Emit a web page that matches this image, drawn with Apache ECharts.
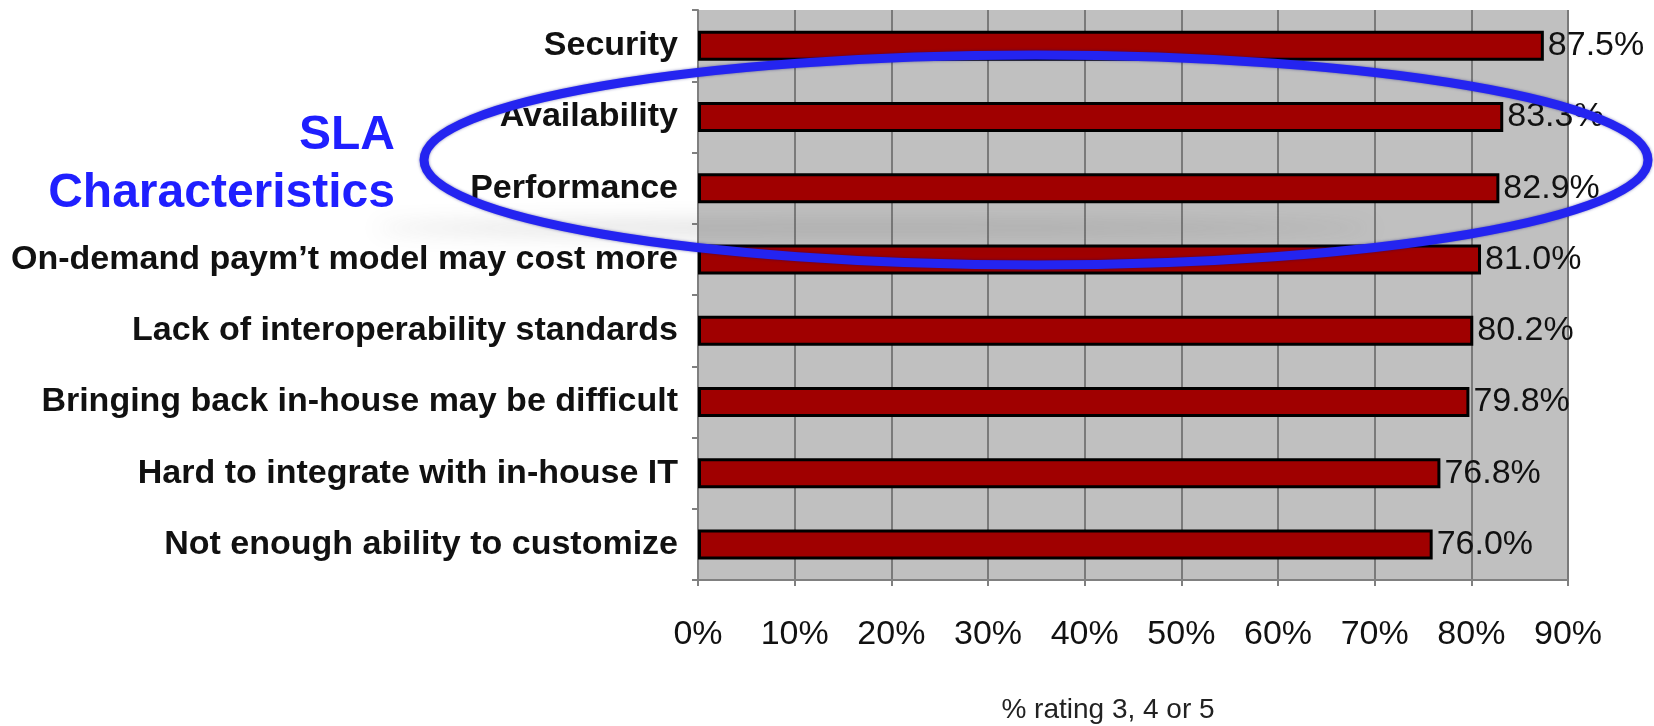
<!DOCTYPE html>
<html>
<head>
<meta charset="utf-8">
<style>
  html, body { margin: 0; padding: 0; background: #fff; }
  #chart { width: 1654px; height: 726px; }
</style>
<script src="https://cdn.jsdelivr.net/npm/echarts@6/dist/echarts.min.js"></script>
</head>
<body>
<div id="chart"></div>
<script>
// concerns, top to bottom
var categories = [
    'Security',
    'Availability',
    'Performance',
    'On-demand paym\u2019t model may cost more',
    'Lack of interoperability standards',
    'Bringing back in-house may be difficult',
    'Hard to integrate with in-house IT',
    'Not enough ability to customize'
];
var ratings = [87.5, 83.3, 82.9, 81.0, 80.2, 79.8, 76.8, 76.0];
var axisTitle = '% rating 3, 4 or 5';
var calloutLines = ['SLA', 'Characteristics'];

var chart = echarts.init(document.getElementById('chart'));

var calloutStyle = {
    align: 'right',
    fontFamily: 'Liberation Sans',
    fontWeight: 'bold',
    fontSize: 48,
    fill: '#1f1fff'
};

var option = {
    animation: false,
    grid: {
        left: 698,
        right: 86,
        top: 10,
        bottom: 146,
        outerBoundsMode: 'none',
        show: true,
        backgroundColor: '#c0c0c0',
        borderWidth: 0
    },
    xAxis: {
        type: 'value',
        min: 0,
        max: 90,
        interval: 10,
        name: axisTitle,
        nameLocation: 'middle',
        nameGap: 116,
        nameTextStyle: {
            fontFamily: 'Liberation Sans',
            fontSize: 28,
            color: '#222',
            padding: [0, 50, 0, 0]
        },
        axisLine: { show: true, lineStyle: { color: '#808080', width: 2 } },
        axisTick: { show: true, length: 6, lineStyle: { color: '#808080', width: 2 } },
        axisLabel: {
            formatter: '{value}%',
            fontFamily: 'Liberation Sans',
            fontSize: 34,
            color: '#111',
            margin: 38
        },
        splitLine: { show: true, lineStyle: { color: '#7a7a7a', width: 2 } }
    },
    yAxis: {
        type: 'category',
        data: categories,
        inverse: true,
        axisLine: { show: true, lineStyle: { color: '#808080', width: 2 } },
        axisTick: { show: true, length: 6, lineStyle: { color: '#808080', width: 2 } },
        axisLabel: {
            fontFamily: 'Liberation Sans',
            fontWeight: 'bold',
            fontSize: 34,
            color: '#111',
            margin: 20
        }
    },
    series: [
        {
            type: 'bar',
            data: ratings,
            barWidth: 30,
            itemStyle: {
                color: '#a00000',
                borderColor: '#000',
                borderWidth: 3
            },
            label: {
                show: true,
                position: 'right',
                distance: 4,
                formatter: function (p) { return p.value.toFixed(1) + '%'; },
                fontFamily: 'Liberation Sans',
                fontSize: 34,
                color: '#111'
            }
        }
    ],
    graphic: [
        {
            type: 'text',
            right: 1654 - 395,
            top: 112,
            style: Object.assign({ text: calloutLines[0] }, calloutStyle)
        },
        {
            type: 'text',
            right: 1654 - 395,
            top: 170,
            style: Object.assign({ text: calloutLines[1] }, calloutStyle)
        },
        {
            // soft shadow under the ring: shape sits off-canvas, only its blur shows
            type: 'ellipse',
            shape: { cx: 875, cy: 228 - 1000, rx: 500, ry: 6 },
            z: 90,
            style: {
                fill: 'rgba(90,90,90,0.5)',
                shadowBlur: 20,
                shadowColor: 'rgba(90,90,90,0.5)',
                shadowOffsetY: 1000
            }
        },
        {
            type: 'ellipse',
            shape: { cx: 1036, cy: 160, rx: 612, ry: 105 },
            z: 100,
            style: {
                fill: 'none',
                stroke: '#2424f0',
                lineWidth: 9,
                shadowBlur: 3,
                shadowColor: 'rgba(0,0,120,0.5)'
            }
        }
    ]
};

chart.setOption(option);
window.addEventListener('resize', function () { chart.resize(); });
</script>
</body>
</html>
